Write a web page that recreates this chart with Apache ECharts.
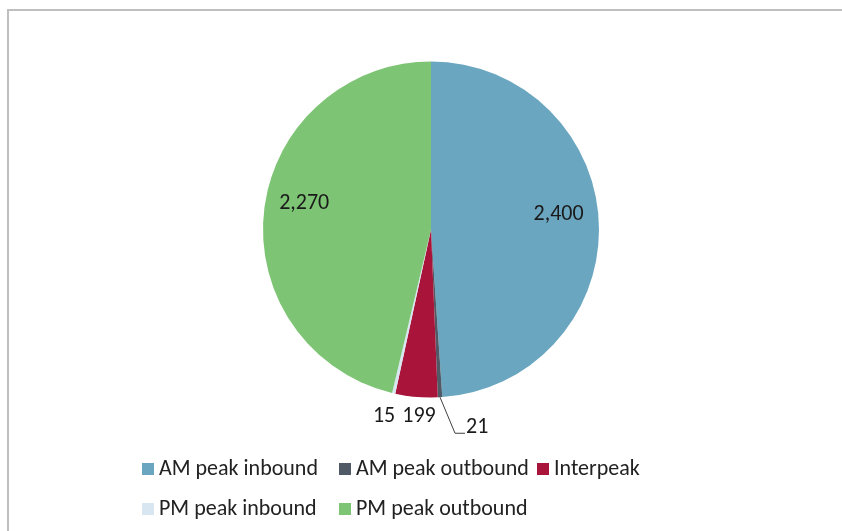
<!DOCTYPE html>
<html>
<head>
<meta charset="utf-8">
<script src="https://cdn.jsdelivr.net/npm/echarts@6/dist/echarts.min.js"></script>
<style>html,body{margin:0;padding:0;background:#fff}#c{width:842px;height:531px}</style>
</head>
<body>
<div id="c"></div>
<script>
const categories = ['AM peak inbound', 'AM peak outbound', 'Interpeak', 'PM peak inbound', 'PM peak outbound'];
const values = [2400, 21, 199, 15, 2270];
const colors = ['#6BA6C1', '#4F5A66', '#A8143A', '#D8E6F2', '#7DC474'];

const FONT = 'Carlito, Lato, "Liberation Sans", sans-serif';
const CX = 431, CY = 229.5, R = 168;

// label placement styles (relative to slice geometry)
const labelStyle = {
  0: {inside: true, ratio: 0.76, dy: -11},
  1: {inside: false, elbow: [15, 36], end: [25, 36], textOff: [26, 30], align: 'left'},
  2: {inside: false, off: [2.6, 20], align: 'center'},
  3: {inside: false, off: [-9.6, 23], align: 'center'},
  4: {inside: true, ratio: 0.76, dy: -11}
};

const total = values.reduce((a, b) => a + b, 0);
const cum = [];
values.reduce((acc, v, i) => { cum[i] = acc + v / 2; return acc + v; }, 0);

const chart = echarts.init(document.getElementById('c'), null, {renderer: 'canvas'});

const data = categories.map((n, i) => ({
  name: n, value: values[i], itemStyle: {color: colors[i]},
  label: {position: labelStyle[i].inside ? 'inside' : 'outside'},
  labelLine: {show: !!labelStyle[i].elbow, lineStyle: {color: '#404040', width: 1}}
}));

const legendText = {fontFamily: FONT, fontSize: 22, color: '#222', lineHeight: 22};
function mkLegend(names, left) {
  return {
    data: names, left: left, top: 458, orient: 'vertical',
    itemWidth: 12, itemHeight: 12, itemGap: 18, icon: 'rect',
    textStyle: legendText, selectedMode: false, padding: 0
  };
}

chart.setOption({
  animation: false,
  backgroundColor: '#fff',
  graphic: [{
    type: 'rect', shape: {x: 8, y: 10, width: 1000, height: 1000},
    style: {fill: 'none', stroke: '#BFBFBF', lineWidth: 2}, silent: true
  }],
  legend: [
    mkLegend([categories[0], categories[3]], 142),
    mkLegend([categories[1], categories[4]], 339),
    mkLegend([categories[2]], 537)
  ],
  series: [{
    type: 'pie',
    center: [CX, CY],
    radius: [0, R],
    startAngle: 90,
    clockwise: true,
    avoidLabelOverlap: false,
    data: data,
    label: {
      show: true,
      fontFamily: FONT, fontSize: 22, color: '#1a1a1a',
      formatter: p => p.value.toLocaleString('en-US')
    },
    labelLayout: function (p) {
      const i = p.dataIndex;
      const s = labelStyle[i];
      const th = cum[i] / total * 2 * Math.PI;
      const sx = Math.sin(th), sy = -Math.cos(th);
      if (s.inside) {
        return {x: CX + s.ratio * R * sx, y: CY + s.ratio * R * sy + s.dy, align: 'center', verticalAlign: 'middle'};
      }
      const ex = CX + R * sx, ey = CY + R * sy;
      if (s.elbow) {
        return {
          x: ex + s.textOff[0], y: ey + s.textOff[1], align: s.align, verticalAlign: 'middle',
          labelLinePoints: [[ex, ey], [ex + s.elbow[0], ey + s.elbow[1]], [ex + s.end[0], ey + s.end[1]]]
        };
      }
      return {x: ex + s.off[0], y: ey + s.off[1], align: s.align, verticalAlign: 'middle'};
    },
    emphasis: {disabled: true}
  }]
});
</script>
</body>
</html>
